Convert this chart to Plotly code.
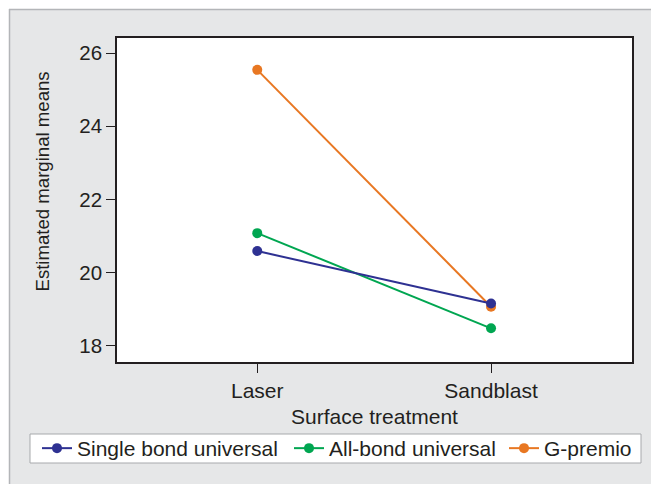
import plotly.graph_objects as go

categories = ["Laser", "Sandblast"]
single_bond = [20.59, 19.16]
all_bond = [21.08, 18.48]
g_premio = [25.54, 19.07]
series_names = ["Single bond universal", "All-bond universal", "G-premio"]
colors = ["#2e3192", "#00a651", "#e87722"]
y_ticks = [18, 20, 22, 24, 26]

OFF = 8  # page body margin
W, H = 659 - OFF, 484 - OFF
L, T = 117 - OFF, 38 - OFF
R = W - (632 - OFF)
B = H - (362 - OFF)
pw, ph = W - L - R, H - T - B

def px2x(x):
    return (x - OFF - L) / pw

def px2y(y):
    return (H - B - (y - OFF)) / ph

font = "Liberation Sans, Arial, sans-serif"
ink = "#231f20"
legend_names = ["legend", "legend2", "legend3"]
legend_x = [37, 289, 504]

fig = go.Figure()
data = [single_bond, all_bond, g_premio]
order = [2, 1, 0]  # draw blue on top
for i in order:
    fig.add_trace(go.Scatter(
        x=[0, 1], y=data[i], mode="lines+markers", name=series_names[i],
        line=dict(color=colors[i], width=2),
        marker=dict(color=colors[i], size=10),
        legend=legend_names[i],
    ))

legend_common = dict(
    orientation="h", yanchor="middle", xanchor="left",
    bgcolor="rgba(0,0,0,0)", borderwidth=0,
    font=dict(family=font, size=21, color=ink), itemwidth=30,
)
legends = {}
for name, lx in zip(legend_names, legend_x):
    legends[name] = dict(legend_common, x=px2x(lx), y=px2y(448.5))

fig.update_layout(
    width=W, height=H,
    margin=dict(l=L, r=R, t=T, b=B),
    paper_bgcolor="#e6e7e8",
    plot_bgcolor="white",
    font=dict(family=font, size=21, color=ink),
    showlegend=True,
    **legends,
    xaxis=dict(
        range=[-0.6, 1.603], tickvals=[0, 1], ticktext=categories,
        showgrid=False, zeroline=False, showline=True, linecolor=ink,
        linewidth=1.5, mirror=True, ticks="outside", ticklen=9, tickcolor=ink,
        tickfont=dict(family=font, size=21, color=ink),
        title=dict(text="Surface treatment", standoff=8, font=dict(family=font, size=21, color=ink)),
    ),
    yaxis=dict(
        range=[17.56, 26.41], tickvals=y_ticks,
        showgrid=False, zeroline=False, showline=True, linecolor=ink,
        linewidth=1.5, mirror=True, ticks="outside", ticklen=9, tickcolor=ink,
        tickfont=dict(family=font, size=20.5, color=ink),
    ),
    annotations=[
        dict(text="Estimated marginal means", xref="paper", yref="paper",
             x=px2x(42), y=px2y(181.5), xanchor="center", yanchor="middle",
             textangle=-90, showarrow=False, font=dict(family=font, size=18.6, color=ink)),
    ],
    shapes=[
        dict(type="rect", xref="paper", yref="paper", x0=px2x(-20), x1=px2x(700),
             y0=px2y(9), y1=px2y(-20), fillcolor="white", line=dict(width=0), layer="below"),
        dict(type="rect", xref="paper", yref="paper", x0=px2x(-20), x1=px2x(9),
             y0=px2y(500), y1=px2y(-20), fillcolor="white", line=dict(width=0), layer="below"),
        dict(type="line", xref="paper", yref="paper", x0=px2x(9), x1=px2x(700),
             y0=px2y(9.5), y1=px2y(9.5), line=dict(color="#b3b5b8", width=1.5), layer="below"),
        dict(type="line", xref="paper", yref="paper", x0=px2x(9.5), x1=px2x(9.5),
             y0=px2y(9), y1=px2y(500), line=dict(color="#b3b5b8", width=1.5), layer="below"),
        dict(type="rect", xref="paper", yref="paper", x0=px2x(30), x1=px2x(641),
             y0=px2y(463), y1=px2y(434), fillcolor="white",
             line=dict(color="#a7a9ac", width=1), layer="below"),
    ],
)

fig.write_html("out.html")
